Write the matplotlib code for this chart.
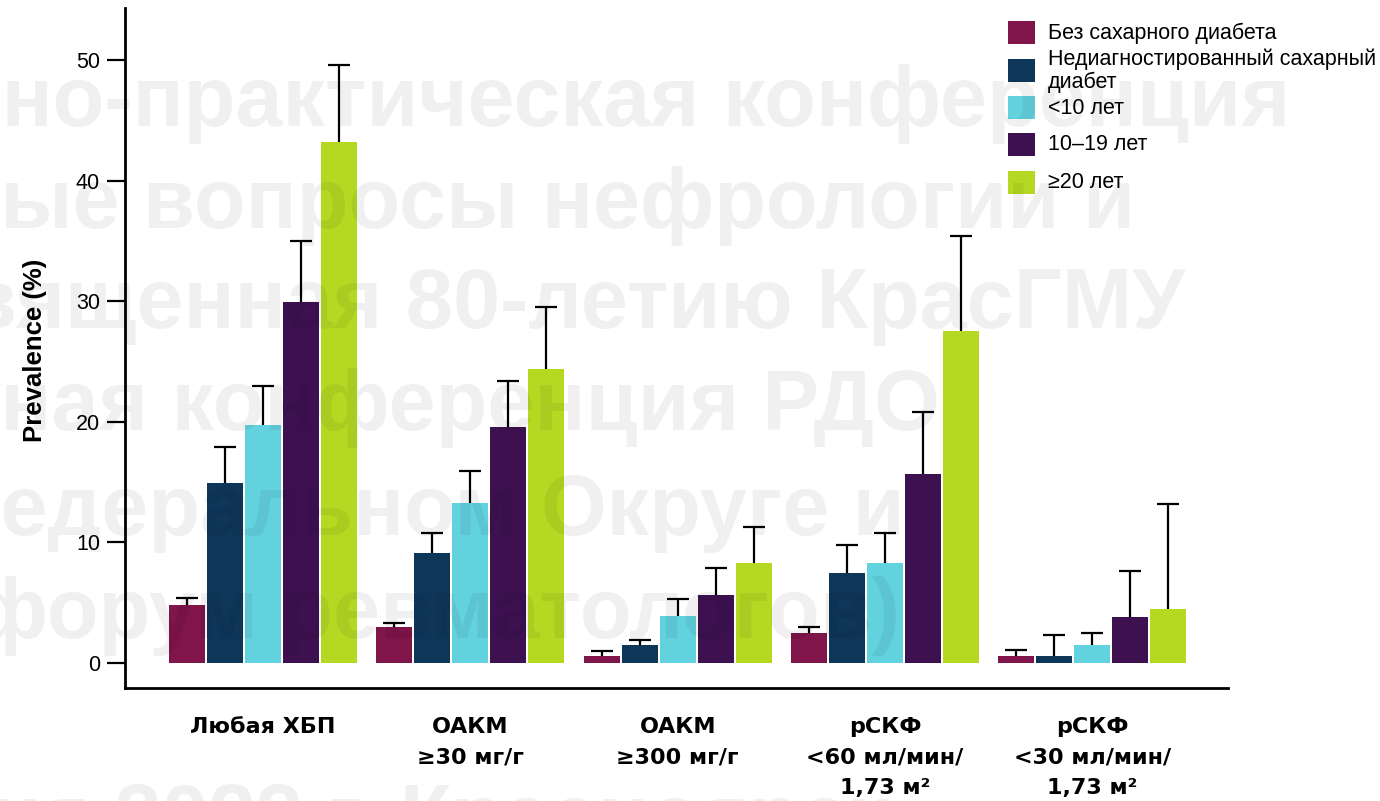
import numpy as np
import matplotlib
matplotlib.use("Agg")
from matplotlib import pyplot as plt
from matplotlib.patches import Rectangle

plt.rcParams['font.family'] = ['Liberation Sans', 'DejaVu Sans']

categories = ["Любая ХБП", "ОАКМ\n≥30 мг/г", "ОАКМ\n≥300 мг/г",
              "рСКФ\n<60 мл/мин/\n1,73 м²", "рСКФ\n<30 мл/мин/\n1,73 м²"]
series = ["Без сахарного диабета", "Недиагностированный сахарный\nдиабет",
          "<10 лет", "10–19 лет", "≥20 лет"]
colors = ["#7F1549", "#0E3659", "#63D2DF", "#3D1150", "#B5D922"]

# prevalence (%) per series, one value per category
no_dm = [4.8, 3.0, 0.6, 2.5, 0.6]
undiag = [14.9, 9.1, 1.5, 7.5, 0.6]
lt10 = [19.7, 13.3, 3.9, 8.3, 1.5]
y10_19 = [29.9, 19.6, 5.6, 15.7, 3.8]
ge20 = [43.2, 24.4, 8.3, 27.5, 4.5]
values = [no_dm, undiag, lt10, y10_19, ge20]

# upper confidence limits
no_dm_hi = [5.4, 3.3, 1.0, 3.0, 1.05]
undiag_hi = [17.9, 10.8, 1.9, 9.8, 2.3]
lt10_hi = [23.0, 15.9, 5.3, 10.8, 2.5]
y10_19_hi = [35.0, 23.4, 7.9, 20.8, 7.6]
ge20_hi = [49.6, 29.5, 11.3, 35.4, 13.2]
uppers = [no_dm_hi, undiag_hi, lt10_hi, y10_19_hi, ge20_hi]

# faint background watermark (partly off the page, as in the slide)
watermark = ["Научно-практическая конференция",
             "Актуальные вопросы нефрологии и",
             "посвященная 80-летию КрасГМУ",
             "Межрегиональная конференция РДО",
             "в Сибирском Федеральном Округе и",
             "Сибирский форум ревматологов)",
             "17 июня 2022 г. Красноярск"]
wm_right = [1290, 1135, 1185, 940, 905, 900, 890]
wm_base = [126, 228, 328, 430, 535, 638, 844]

W, H = 1380, 801
fig = plt.figure(figsize=(W/100, H/100), dpi=100)
ax = fig.add_axes([125/W, 1-688/H, (1228-125)/W, (688-8)/H])

x = np.arange(len(categories))
pitch = 0.1833
width = 0.174
for i, (vals, hi, c) in enumerate(zip(values, uppers, colors)):
    pos = x + (i - 2) * pitch
    err = np.array(hi) - np.array(vals)
    ax.bar(pos, vals, width, color=c, zorder=2)
    _, caps, _ = ax.errorbar(pos, vals, yerr=[np.zeros_like(err), err], fmt='none',
                             ecolor='black', elinewidth=1.6, capsize=8,
                             capthick=1.6, zorder=3)
    caps[0].remove()  # only the upper whisker is shown

ax.set_xlim(-0.666, 4.655)
ax.set_ylim(-2.07, 54.3)
ax.set_yticks([0, 10, 20, 30, 40, 50])
ax.tick_params(axis='y', length=13, width=1.6, labelsize=15.5, pad=5)
ax.set_xticks(x)
ax.set_xticklabels(categories, fontsize=16, fontweight='bold', linespacing=1.65,
                   family=['DejaVu Sans'])
ax.tick_params(axis='x', length=0, pad=21)
ax.set_ylabel("Prevalence (%)", fontsize=18.5, fontweight='bold')
ax.yaxis.set_label_coords(-0.071, 0.497)
for s in ['top', 'right']:
    ax.spines[s].set_visible(False)
for s in ['left', 'bottom']:
    ax.spines[s].set_linewidth(2)

# legend, drawn as squares + labels at the top right
leg_y = [32, 70, 107, 144, 182]
for lab, c, yy in zip(series, colors, leg_y):
    fig.add_artist(Rectangle((1008/W, 1-(yy+11.5)/H), 27/W, 23/H,
                             transform=fig.transFigure, facecolor=c, edgecolor='none'))
    fig.text(1048/W, 1-(yy+1)/H, lab, ha='left', va='center', fontsize=15.5,
             linespacing=1.12)

for txt, xr, yb in zip(watermark, wm_right, wm_base):
    fig.text(xr/W, 1-yb/H, txt, ha='right', va='baseline', fontsize=61,
             fontweight='bold', color='black', alpha=0.06, zorder=10)

fig.savefig("out.png", dpi=100)
